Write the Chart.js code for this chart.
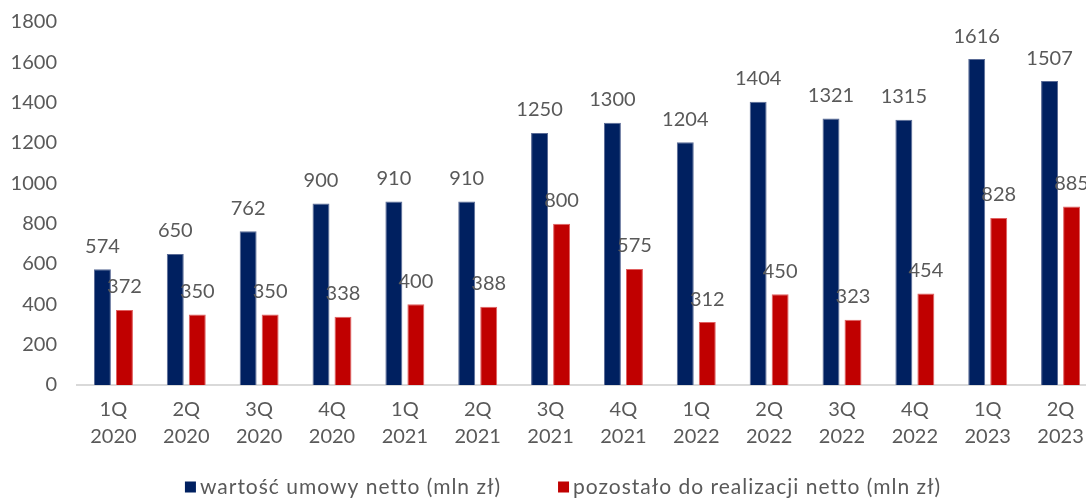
<!DOCTYPE html>
<html>
<head>
<meta charset="utf-8">
<script src="https://cdn.jsdelivr.net/npm/chart.js@4"></script>
<style>
	html, body { margin: 0; padding: 0; background: #fff; overflow: hidden; }
	#wrap { position: absolute; left: 0; top: 0; }
</style>
</head>
<body>
<div id="wrap"><canvas id="barChart" width="1097" height="498"></canvas></div>
<script>
const quarters = [
	["1Q", "2020"], ["2Q", "2020"], ["3Q", "2020"], ["4Q", "2020"],
	["1Q", "2021"], ["2Q", "2021"], ["3Q", "2021"], ["4Q", "2021"],
	["1Q", "2022"], ["2Q", "2022"], ["3Q", "2022"], ["4Q", "2022"],
	["1Q", "2023"], ["2Q", "2023"],
];
const contractValue = [574, 650, 762, 900, 910, 910, 1250, 1300, 1204, 1404, 1321, 1315, 1616, 1507];
const remainingValue = [372, 350, 350, 338, 400, 388, 800, 575, 312, 450, 323, 454, 828, 885];
const seriesNames = ["wartość umowy netto (mln zł)", "pozostało do realizacji netto (mln zł)"];

const FONT = "Lato, 'Open Sans', sans-serif";
const TEXT_COLOR = "#595959";

// value labels above each bar
const valueLabels = {
	id: "valueLabels",
	afterDatasetsDraw(chart) {
		const ctx = chart.ctx;
		ctx.save();
		ctx.font = "20px " + FONT;
		ctx.fillStyle = TEXT_COLOR;
		ctx.textAlign = "center";
		ctx.textBaseline = "middle";
		chart.data.datasets.forEach((ds, di) => {
			const meta = chart.getDatasetMeta(di);
			meta.data.forEach((bar, i) => {
				ctx.fillText(ds.data[i], bar.x, bar.y - 23);
			});
		});
		ctx.restore();
	},
};

// legend drawn by hand so box/text spacing matches the original
const bottomLegend = {
	id: "bottomLegend",
	afterDraw(chart) {
		const ctx = chart.ctx;
		const box = 11, gapText = 4, gapItems = 57, centerX = 563, y = 487;
		ctx.save();
		ctx.font = "21px " + FONT;
		ctx.letterSpacing = "1px";
		ctx.textBaseline = "middle";
		const items = chart.data.datasets.map((ds) => ({
			label: ds.label,
			color: ds.backgroundColor,
			w: box + gapText + ctx.measureText(ds.label).width,
		}));
		const total = items.reduce((s, it) => s + it.w, 0) + gapItems * (items.length - 1);
		let x = centerX - total / 2;
		items.forEach((it) => {
			ctx.fillStyle = it.color;
			ctx.fillRect(x, y - box / 2, box, box);
			ctx.fillStyle = TEXT_COLOR;
			ctx.textAlign = "left";
			ctx.fillText(it.label, x + box + gapText, y);
			x += it.w + gapItems;
		});
		ctx.restore();
	},
};

new Chart(document.getElementById("barChart"), {
	type: "bar",
	data: {
		labels: quarters,
		datasets: [
			{
				label: seriesNames[0],
				data: contractValue,
				backgroundColor: "#002060",
				borderColor: "#5a6b96",
				borderWidth: 1,
				categoryPercentage: 0.604,
				barPercentage: 0.77,
			},
			{
				label: seriesNames[1],
				data: remainingValue,
				backgroundColor: "#C00000",
				borderColor: "#e06060",
				borderWidth: 1,
				categoryPercentage: 0.604,
				barPercentage: 0.77,
			},
		],
	},
	plugins: [valueLabels, bottomLegend],
	options: {
		responsive: false,
		animation: false,
		devicePixelRatio: 1,
		layout: { padding: { top: 22, right: 0, bottom: 0, left: 0 } },
		plugins: {
			legend: { display: false },
			tooltip: { enabled: false },
		},
		scales: {
			x: {
				grid: { display: false, drawTicks: false },
				border: { display: true, color: "#d9d9d9", width: 2 },
				ticks: {
					padding: 11,
					color: TEXT_COLOR,
					font: { family: FONT, size: 20, lineHeight: 1.35 },
					maxRotation: 0,
					autoSkip: false,
				},
				afterFit(scale) {
					scale.height = 113;
				},
			},
			y: {
				min: 0,
				max: 1800,
				grid: { display: false, drawTicks: false },
				border: { display: false },
				ticks: {
					stepSize: 200,
					padding: 20,
					color: TEXT_COLOR,
					font: { family: FONT, size: 20 },
					callback: (v) => String(v),
				},
				afterFit(scale) {
					scale.width = 77;
					scale.paddingTop = 0;
					scale.paddingBottom = 0;
				},
			},
		},
	},
});
</script>
</body>
</html>
